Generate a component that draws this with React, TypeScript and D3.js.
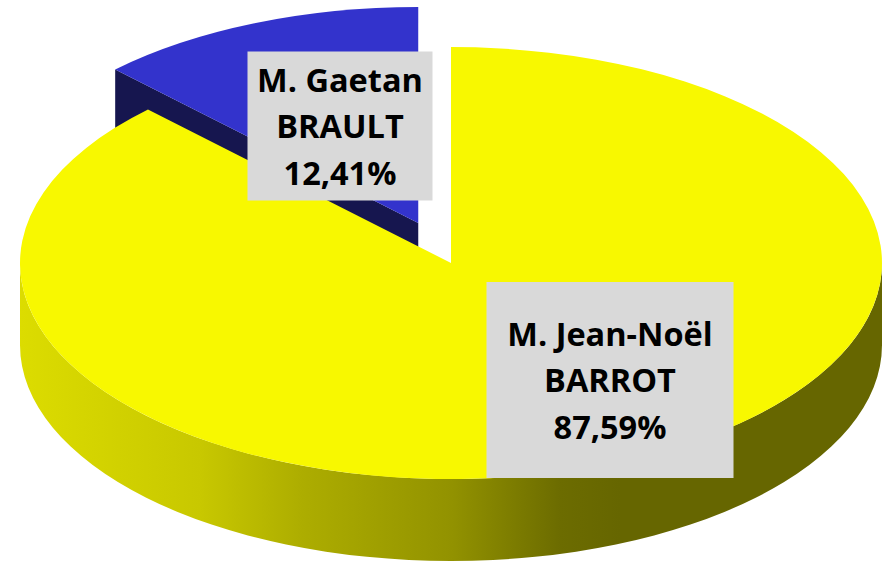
import React from 'react';
import * as d3 from 'd3';

const names = ['M. Jean-Noël BARROT', 'M. Gaetan BRAULT'];
const labelLines = [['M. Jean-Noël', 'BARROT'], ['M. Gaetan', 'BRAULT']];
const shares = [87.59, 12.41];
const topColors = ['#f8f800', '#3333cc'];
const sideColors = ['url(#yellowSide)', '#16164f'];

const W = 888;
const H = 569;
const cx = 451;
const cy = 263;
const rx = 431;
const ry = 216;
const depth = 82;
const explode = [0, 0.2];
// label box centres, placed by hand like Excel does
const labelPos = [
  { x: 610, y: 380 },
  { x: 340, y: 126 },
];
const boxW = [247, 185];
const boxH = 196;
const boxH2 = 149;

const pt = (x0: number, y0: number, a: number, dy = 0) => [x0 + rx * Math.sin(a), y0 - ry * Math.cos(a) + dy];

const fmt = (v: number) => v.toFixed(2).replace('.', ',') + '%';

export default function App() {
  const arcs = d3.pie<number>().sort(null)(shares);

  const slices = arcs.map((a, i) => {
    const mid = (a.startAngle + a.endAngle) / 2;
    const ox = cx + explode[i] * rx * Math.sin(mid);
    const oy = cy - explode[i] * ry * Math.cos(mid);
    const p0 = pt(ox, oy, a.startAngle);
    const p1 = pt(ox, oy, a.endAngle);
    const large = a.endAngle - a.startAngle > Math.PI ? 1 : 0;
    const top = `M${ox},${oy}L${p0[0]},${p0[1]}A${rx},${ry} 0 ${large} 1 ${p1[0]},${p1[1]}Z`;

    const sides: string[] = [];
    // outer wall, only the front half (pi/2 .. 3pi/2) is visible
    const s = Math.max(a.startAngle, Math.PI / 2);
    const e = Math.min(a.endAngle, (3 * Math.PI) / 2);
    if (e > s) {
      const q0 = pt(ox, oy, s);
      const q1 = pt(ox, oy, e);
      sides.push(
        `M${q0[0]},${q0[1]}A${rx},${ry} 0 0 1 ${q1[0]},${q1[1]}L${q1[0]},${q1[1] + depth}A${rx},${ry} 0 0 0 ${q0[0]},${q0[1] + depth}Z`
      );
    }
    // cut face on the start edge of the small slice faces the viewer
    if (i === 1) {
      sides.push(`M${ox},${oy}L${p0[0]},${p0[1]}L${p0[0]},${p0[1] + depth}L${ox},${oy + depth}Z`);
    }
    return { top, sides, i };
  });

  // draw exploded back slice first
  const order = [1, 0];

  return (
    <svg width={W} height={H} style={{ position: 'absolute', left: 0, top: 0, background: '#fff' }}>
      <defs>
        <linearGradient id="yellowSide" gradientUnits="userSpaceOnUse" x1={20} x2={620} y1={0} y2={0}>
          <stop offset="0" stopColor="#dcdc00" />
          <stop offset="0.3" stopColor="#c8c800" />
          <stop offset="0.47" stopColor="#adad00" />
          <stop offset="0.72" stopColor="#929200" />
          <stop offset="0.9" stopColor="#6c6c00" />
          <stop offset="1" stopColor="#666600" />
        </linearGradient>
      </defs>
      {order.map((k) => {
        const sl = slices[k];
        return (
          <g key={k}>
            {sl.sides.map((d, j) => (
              <path key={j} d={d} fill={sideColors[k]} />
            ))}
            <path d={sl.top} fill={topColors[k]} />
          </g>
        );
      })}
      {names.map((n, i) => {
        const lines = [...labelLines[i], fmt(shares[i])];
        const bh = i === 0 ? boxH : boxH2;
        return (
          <g key={n} transform={`translate(${labelPos[i].x},${labelPos[i].y})`}>
            <rect x={-boxW[i] / 2} y={-bh / 2} width={boxW[i]} height={bh} fill="#d9d9d9" />
            {lines.map((t, j) => (
              <text
                key={j}
                x={0}
                y={(j - 1) * 46.5 + 12}
                textAnchor="middle"
                fontFamily="'Open Sans', sans-serif"
                fontWeight="bold"
                fontSize={32.5}
                fill="#000"
              >
                {t}
              </text>
            ))}
          </g>
        );
      })}
    </svg>
  );
}
